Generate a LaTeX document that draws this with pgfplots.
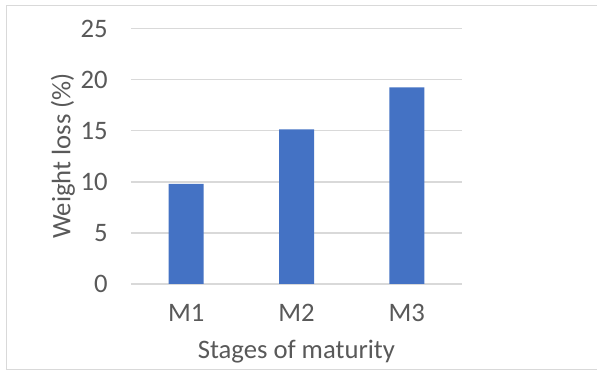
\documentclass[border=0pt]{standalone}
\usepackage{pgfplots}
\pgfplotsset{compat=1.18}
\usepackage{fontspec}
\setmainfont{Carlito}
\definecolor{barblue}{HTML}{4472C4}
\definecolor{txt}{HTML}{595959}
\definecolor{gridc}{HTML}{D9D9D9}
\begin{document}
\begin{tikzpicture}
\useasboundingbox (0,0) rectangle (447.75pt,278.25pt);
\fill[white] (0,0) rectangle (447.75pt,278.25pt);
\draw[gridc, line width=0.75pt] (447.75pt,273.75pt) -- (4.5pt,273.75pt) -- (4.5pt,0.75pt) -- (447.75pt,0.75pt);
\begin{axis}[
  at={(98.25pt,65.25pt)}, anchor=south west,
  scale only axis, width=248.25pt, height=191.5pt,
  xmin=-0.5, xmax=2.5, ymin=0, ymax=25,
  ytick={0,5,10,15,20,25},
  xtick={0,1,2}, xticklabels={M1,M2,M3},
  ymajorgrids, grid style={gridc, line width=1pt},
  axis line style={draw=none},
  major tick length=0pt,
  tick label style={font=\fontsize{20}{24}\selectfont, text=txt},
  /pgf/number format/assume math mode=true,
  yticklabel style={anchor=east, inner sep=0pt, xshift=-17.25pt},
  xticklabel style={anchor=center, inner sep=0pt, yshift=-21.75pt},
]
\addplot[ybar, bar width=26.25pt, fill=barblue, draw=none] coordinates {(0,9.8) (1,15.15) (2,19.25)};
\end{axis}
\node[rotate=90, text=txt, font=\fontsize{20}{24}\selectfont, inner sep=0pt] at (47.25pt,161.25pt) {Weight loss (\%)};
\node[text=txt, font=\fontsize{20}{24}\selectfont, inner sep=0pt] at (222.3pt,14.25pt) {Stages of maturity};
\end{tikzpicture}
\end{document}
